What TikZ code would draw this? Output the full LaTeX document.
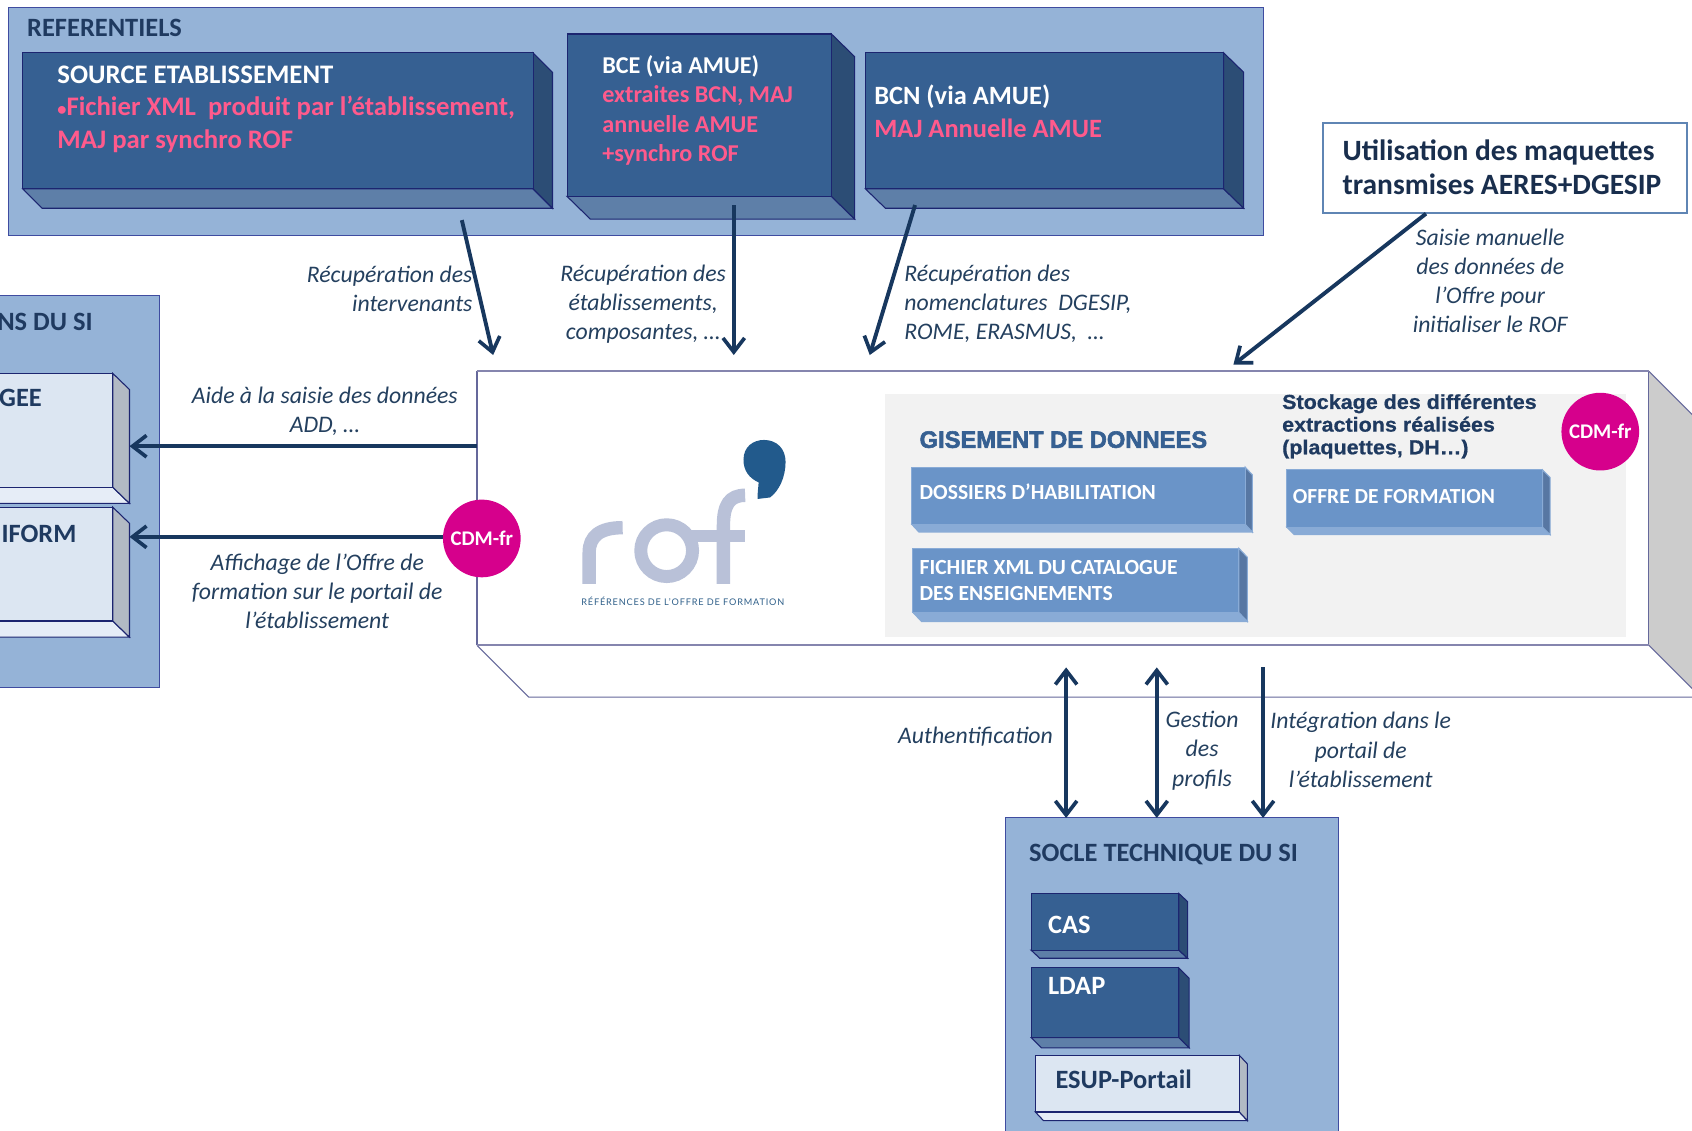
\documentclass[tikz,border=0pt]{standalone}
\usepackage{fontspec}
\setmainfont{Carlito}
\font\gisf="Liberation Sans/B:embolden=2.4" at 22pt
\font\stkf="Liberation Sans/B:embolden=0.7;extend=1.06" at 18.8pt
\newfontfamily\latof{Lato}[LetterSpace=9]
\usetikzlibrary{arrows.meta}
\definecolor{panel}{HTML}{95B3D7}
\definecolor{paneledge}{HTML}{3F4CA0}
\definecolor{dkf}{HTML}{366092}
\definecolor{dks}{HTML}{2C4D75}
\definecolor{dkb}{HTML}{5E7FA8}
\definecolor{dke}{HTML}{1C2570}
\definecolor{ltf}{HTML}{DCE6F2}
\definecolor{lts}{HTML}{B2BAC4}
\definecolor{ltb}{HTML}{E6EDF7}
\definecolor{mdf}{HTML}{6A94C8}
\definecolor{mds}{HTML}{5777A3}
\definecolor{mdb}{HTML}{89ABD6}
\definecolor{pinkt}{HTML}{FF5A8C}
\definecolor{magen}{HTML}{D6008C}
\definecolor{arrowc}{HTML}{17375E}
\definecolor{titlec}{HTML}{1F3A60}
\definecolor{italc}{HTML}{24405F}
\definecolor{mainedge}{HTML}{8585AE}
\definecolor{logol}{HTML}{B9C1D8}
\definecolor{logod}{HTML}{225A8C}
\tikzset{
  arr/.style={draw=arrowc,line width=3.6pt,-{Straight Barb[length=13pt,width=20pt,line width=3.4pt]}},
  darr/.style={draw=arrowc,line width=3.6pt,{Straight Barb[length=13pt,width=20pt,line width=3.4pt]}-{Straight Barb[length=13pt,width=20pt,line width=3.4pt]}},
  lab/.style={inner sep=0pt,align=center,text=italc,font=\fontsize{22}{27}\selectfont\itshape},
  labl/.style={lab,align=left},
  labr/.style={lab,align=right},
  ttl/.style={inner sep=0pt,anchor=base west,text=titlec,font=\fontsize{24.5}{27}\selectfont\bfseries},
  wht/.style={inner sep=0pt,anchor=north west,align=left,text=white,font=\fontsize{24.8}{30}\selectfont\bfseries},
  cdm/.style={circle,fill=magen,minimum size=72pt,inner sep=0pt,text=white,font=\fontsize{19.3}{20}\selectfont\bfseries},
  panelbox/.style={fill=panel,draw=paneledge,line width=1pt},
}
\def\boxthree#1#2#3#4#5#6#7#8#9{%
  \def\bxa{#1}\def\bya{#2}\def\bxb{#3}\def\byb{#4}\def\bxd{#5}\def\byd{#6}%
  \def\bcf{#7}\def\bcs{#8}\def\bcb{#9}\boxthreeb}
\def\boxthreeb#1{%
  \pgfmathsetmacro\bdx{\bxd-\bxb}\pgfmathsetmacro\bdy{\byd-\byb}%
  \fill[\bcb,draw=#1,line width=1pt] (\bxa,\byb) -- (\bxb,\byb) -- (\bxd,\byd) -- (\bxa+\bdx,\byd) -- cycle;
  \fill[\bcs,draw=#1,line width=1pt] (\bxb,\bya) -- (\bxd,\bya+\bdy) -- (\bxd,\byd) -- (\bxb,\byb) -- cycle;
  \fill[\bcf,draw=#1,line width=1pt] (\bxa,\bya) rectangle (\bxb,\byb);}
\begin{document}
\begin{tikzpicture}[x=1pt,y=-1pt]
\useasboundingbox (0,0) rectangle (1568,1048);
\clip (0,0) rectangle (1568,1048);
\fill[white] (0,0) rectangle (1568,1048);
% panels
\draw[panelbox] (7.5,7) rectangle (1170.5,218);
\draw[panelbox] (-5,273.5) rectangle (148,637.5);
\draw[panelbox] (932,758) rectangle (1240.5,1060);
% referentiels boxes
\boxthree{21}{49}{494}{175}{512}{193}{dkf}{dks}{dkb}{dke}
\boxthree{525.5}{31.5}{770.5}{182}{792}{203}{dkf}{dks}{dkb}{dke}
\boxthree{802}{49}{1134}{175}{1152.5}{193}{dkf}{dks}{dkb}{dke}
% left boxes
\boxthree{-40}{346}{104.5}{451.5}{120}{466.5}{ltf}{lts}{ltb}{dke}
\boxthree{-40}{470}{104.5}{575.5}{120}{590.5}{ltf}{lts}{ltb}{dke}
% socle boxes
\boxthree{955.5}{828}{1092.5}{880.5}{1100.5}{888}{dkf}{dks}{dkb}{dke}
\boxthree{955.5}{897}{1092.5}{961.5}{1102}{971}{dkf}{dks}{dkb}{dke}
\boxthree{959.5}{978}{1148.5}{1030.5}{1156}{1038.5}{ltf}{lts}{ltb}{dke}
% main 3D box
\fill[white] (442,598) -- (1528,598) -- (1576,646) -- (490,646) -- cycle;
\fill[black!20] (1528,344) -- (1576,392) -- (1576,646) -- (1528,598) -- cycle;
\fill[white] (442,344) rectangle (1528,598);
\draw[mainedge!70!dke,line width=1pt] (1528,344) -- (1576,392);
\draw[mainedge!70!dke,line width=1pt] (1528,598) -- (1576,646);
\draw[mainedge!70!dke,line width=1pt] (442,598) -- (490,646) -- (1576,646);
\draw[mainedge!70!dke,line width=1pt] (442,344) -- (442,598);
\draw[mainedge!70!dke,line width=1pt] (1528,344) -- (1528,598);
\draw[mainedge,line width=1.6pt] (442,344) -- (1528,344);
\draw[mainedge,line width=2pt] (442,598) -- (1528,598);
\fill[black!5] (820,365) rectangle (1507,590);
% inner boxes
\boxthree{845}{433}{1154}{486}{1160.5}{493}{mdf}{mds}{mdb}{mdb}
\boxthree{846}{508}{1148}{567.5}{1156}{576}{mdf}{mds}{mdb}{mdb}
\boxthree{1192.5}{435.5}{1429.5}{488.5}{1436.5}{495.5}{mdf}{mds}{mdb}{mdb}
% logo
\draw[logol,line width=12.4pt] (546,541) -- (546,512) .. controls (546,497) and (556,489) .. (577,489);
\draw[logol,line width=12pt] (617.8,510.3) circle (24);
\draw[logol,line width=12.4pt] (670.4,541) -- (670.4,487) .. controls (670.4,468) and (676,459) .. (690.5,459);
\draw[logol,line width=11.4pt] (640,496.7) -- (690.5,496.7);
\fill[logod] (689,426) .. controls (689,414) and (698,407.7) .. (708,407.7) .. controls (720,407.7) and (728,416) .. (728,428) .. controls (728,442) and (722,455) .. (713.6,461) -- (702,462.4) .. controls (702,455) and (703,450) .. (703,447) .. controls (694,443) and (689,436) .. (689,426) -- cycle;
\node[inner sep=0pt,anchor=base west,text=logod!85!gray] (logotext) at (538.5,561) {\latof\fontsize{8.5}{10}\selectfont RÉFÉRENCES DE L’OFFRE DE FORMATION};
% box for Utilisation
\node[draw=mdf!90!black,fill=white,line width=2pt,minimum width=337pt,minimum height=84pt,inner sep=0pt] (util) at (1394.5,155.7) {};
\node[inner sep=0pt,anchor=north west,align=left,text=titlec!80!black,font=\fontsize{27.3}{32}\selectfont\bfseries] (utilt) at (1244,129) {Utilisation des maquettes\\transmises AERES+DGESIP};
% coordinates for connectors
\coordinate (a1s) at (428,204); \coordinate (a1e) at (457,329);
\coordinate (a2s) at (680,190); \coordinate (a2e) at (680,329);
\coordinate (a3s) at (848,190); \coordinate (a3e) at (806,329);
\coordinate (a4s) at (1321.5,198); \coordinate (a4e) at (1143,338);
\coordinate (a5s) at (442,413.5); \coordinate (a5e) at (120,413.5);
\coordinate (a6s) at (420,497.5); \coordinate (a6e) at (120,497.5);
\coordinate (b1t) at (988,618.5); \coordinate (b1b) at (988,758);
\coordinate (b2t) at (1072,618.5); \coordinate (b2b) at (1072,758);
\coordinate (b3t) at (1170.5,618.5); \coordinate (b3b) at (1170.5,758);
\draw[arr] (a1s) -- (a1e);
\draw[arr] (a2s) -- (a2e);
\draw[arr] (a3s) -- (a3e);
\draw[arr] (a4s) -- (a4e);
\draw[arr] (a5s) -- (a5e);
\draw[arr] (a6s) -- (a6e);
\draw[darr] (b1t) -- (b1b);
\draw[darr] (b2t) -- (b2b);
\draw[arr] (b3t) -- (b3b);
\node[cdm] (cdml) at (446.5,499) {CDM-fr};
\node[cdm] (cdmr) at (1483,400) {CDM-fr};
% titles
\node[ttl] (tref) at (25,33.5) {REFERENTIELS};
\node[ttl,anchor=base east] (tns) at (86,306) {NS DU SI};
\node[ttl,anchor=base east] (tgee) at (39,376.5) {GEE};
\node[ttl,anchor=base east] (tif) at (71,502.5) {IFORM};
\node[ttl] (tsoc) at (953.5,798.5) {SOCLE TECHNIQUE DU SI};
\node[ttl,text=white] (tcas) at (971,865) {CAS};
\node[ttl,text=white] (tldap) at (971,922) {LDAP};
\node[ttl] (tesup) at (978,1009) {ESUP-Portail};
% box text
\node[wht] (src) at (53,61) {SOURCE ETABLISSEMENT\\\textcolor{pinkt}{{\fontsize{17}{30}\selectfont •}Fichier XML\ \ produit par l’établissement,}\\\textcolor{pinkt}{MAJ par synchro ROF}};
\node[wht,font=\fontsize{22.4}{27.3}\selectfont\bfseries] (bce) at (558,51) {BCE (via AMUE)\\\textcolor{pinkt}{extraites BCN, MAJ}\\\textcolor{pinkt}{annuelle AMUE}\\\textcolor{pinkt}{+synchro ROF}};
\node[wht,font=\fontsize{24.5}{31}\selectfont\bfseries] (bcn) at (810,78) {BCN (via AMUE)\\\textcolor{pinkt}{MAJ Annuelle AMUE}};
% inner box text
\node[inner sep=0pt,anchor=base west,text=dkf] (gis) at (852,415) {\gisf GISEMENT DE DONNEES};
\node[inner sep=0pt,anchor=north west,align=left,text=titlec,font=\fontsize{18.8}{21}\selectfont\stkf] (stk) at (1188,365) {Stockage des différentes\\extractions réalisées\\(plaquettes, DH…)};
\node[inner sep=0pt,anchor=base west,text=white,font=\fontsize{20}{24}\selectfont\bfseries] (dos) at (852,463) {DOSSIERS D’HABILITATION};
\node[inner sep=0pt,anchor=north west,align=left,text=white,font=\fontsize{20}{24}\selectfont\bfseries] (fic) at (852,519.5) {FICHIER XML DU CATALOGUE\\DES ENSEIGNEMENTS};
\node[inner sep=0pt,anchor=base west,text=white,font=\fontsize{19.9}{24}\selectfont\bfseries] (off) at (1198,467) {OFFRE DE FORMATION};
% italics
\node[labr,anchor=north east] (l1) at (438,246) {Récupération des\\intervenants};
\node[lab,anchor=north] (l2) at (596,245) {Récupération des\\établissements,\\composantes, …};
\node[labl,anchor=north west] (l3) at (838,245) {Récupération des\\nomenclatures\ \ DGESIP,\\ROME, ERASMUS,\ \ …};
\node[lab,anchor=north] (l4) at (1381,212) {Saisie manuelle\\des données de\\l’Offre pour\\initialiser le ROF};
\node[lab,anchor=north] (l5) at (301,358) {Aide à la saisie des données\\ADD, …};
\node[lab,anchor=north] (l6) at (294,513) {Affichage de l’Offre de\\formation sur le portail de\\l’établissement};
\node[lab,anchor=base] (l7) at (904,689) {Authentification};
\node[lab,anchor=north] (l8) at (1114,659) {Gestion\\des\\profils};
\node[lab,anchor=north] (l9) at (1261,660) {Intégration dans le\\portail de\\l’établissement};
\end{tikzpicture}
\end{document}
